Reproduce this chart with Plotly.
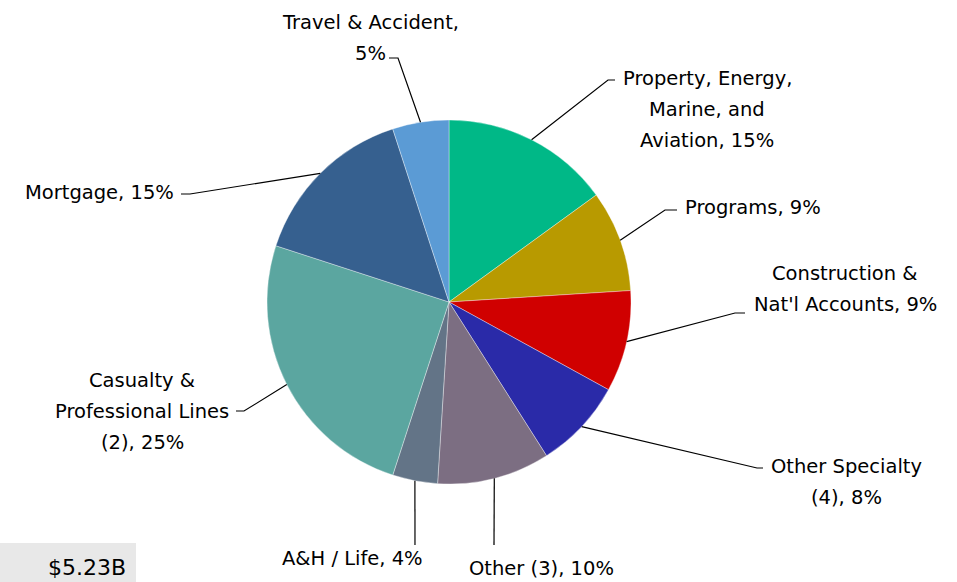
import math
import plotly.graph_objects as go

W, H = 957, 582

# ---- data ----
segments = ["Property, Energy, Marine, and Aviation", "Programs", "Construction & Nat'l Accounts",
            "Other Specialty (4)", "Other (3)", "A&H / Life", "Casualty & Professional Lines (2)",
            "Mortgage", "Travel & Accident"]
shares = [15, 9, 9, 8, 10, 4, 25, 15, 5]
label_lines = [
    ["Property, Energy,", "Marine, and", "Aviation, 15%"],
    ["Programs, 9%"],
    ["Construction &", "Nat'l Accounts, 9%"],
    ["Other Specialty", "(4), 8%"],
    ["Other (3), 10%"],
    ["A&H / Life, 4%"],
    ["Casualty &", "Professional Lines", "(2), 25%"],
    ["Mortgage, 15%"],
    ["Travel & Accident,", "5%"],
]
total_text = "$5.23B"

# ---- style / layout ----
colors = ["#00b887", "#b89a00", "#d00000", "#2a2aa8", "#7c6e82", "#637487",
          "#5ba6a0", "#36608f", "#5b9bd5"]
CX, CY, R = 449, 302, 182
FONT = "DejaVu Sans"
FS = 19.5
LINE_H = 31
# (label center x, first-line y, elbow point, line end point)
label_layout = [
    (707, 78, (608, 80), (615, 80)),
    (753, 207, (665, 210), (677, 210)),
    (845, 273, (735, 313), (745, 313)),
    (846, 466, (757, 468), (763, 468)),
    (541, 568, (494, 545), (494, 545)),
    (352, 558, (415, 545), (415, 545)),
    (142, 380, (244, 411), (236, 411)),
    (99, 192, (190, 194), (181, 194)),
    (370, 22, (398, 58), (389, 58)),
]

fig = go.Figure()
fig.add_trace(go.Pie(
    labels=segments, values=shares, sort=False, direction="clockwise", rotation=0,
    marker=dict(colors=colors, line=dict(color="rgba(255,255,255,0.6)", width=0.6)),
    textinfo="none", hoverinfo="label+percent", showlegend=False,
    domain=dict(x=[(CX - R) / W, (CX + R) / W],
                y=[(H - CY - R) / H, (H - CY + R) / H]),
))

total = sum(shares)
cum = 0
shapes = []
annotations = []
for i, v in enumerate(shares):
    mid = (cum + v / 2) / total * 2 * math.pi
    cum += v
    ex = CX + R * math.sin(mid)
    ey = CY - R * math.cos(mid)
    lx, ly, elbow, end = label_layout[i]
    shapes.append(dict(type="path", xref="x", yref="y",
                       path=f"M {ex:.1f},{ey:.1f} L {elbow[0]},{elbow[1]} L {end[0]},{end[1]}",
                       line=dict(color="black", width=1.2)))
    for k, t in enumerate(label_lines[i]):
        annotations.append(dict(x=lx, y=ly + k * LINE_H, xref="x", yref="y", text=t,
                                showarrow=False, xanchor="center", yanchor="middle",
                                font=dict(family=FONT, size=FS, color="black")))

# total box
shapes.append(dict(type="rect", xref="x", yref="y", x0=0, x1=136, y0=543, y1=585,
                   fillcolor="#e8e8e8", line=dict(width=0), layer="below"))
annotations.append(dict(x=128, y=567, xref="x", yref="y", text=total_text, showarrow=False,
                        xanchor="right", yanchor="middle",
                        font=dict(family=FONT, size=22, color="black")))

fig.update_layout(
    width=W, height=H, margin=dict(l=0, r=0, t=0, b=0),
    paper_bgcolor="white", plot_bgcolor="rgba(0,0,0,0)",
    xaxis=dict(range=[0, W], visible=False, fixedrange=True),
    yaxis=dict(range=[H, 0], visible=False, fixedrange=True),
    shapes=shapes, annotations=annotations,
)
fig.write_html("out.html")
